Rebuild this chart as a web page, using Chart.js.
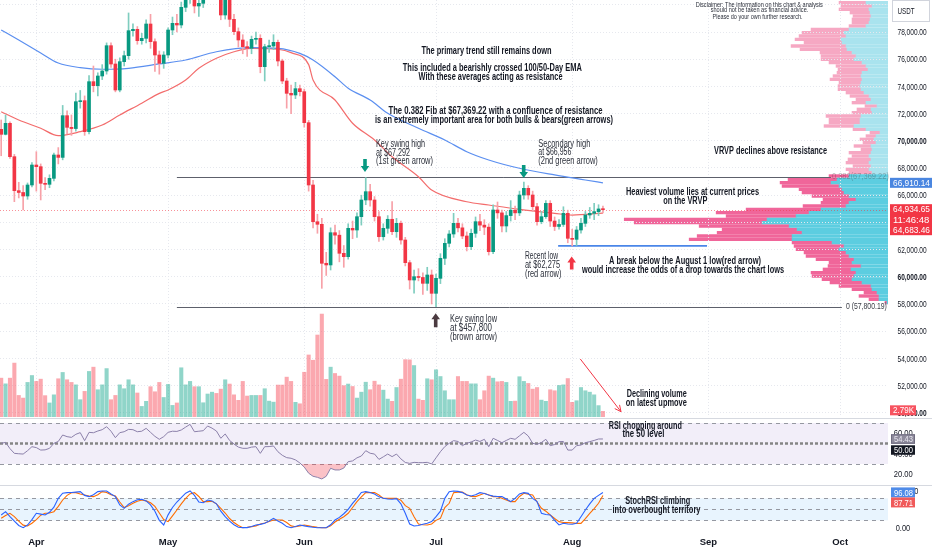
<!DOCTYPE html>
<html>
<head>
<meta charset="utf-8">
<script src="https://cdn.jsdelivr.net/npm/chart.js@4.4.1/dist/chart.umd.min.js"></script>
<style>
  body { margin: 0; background: #fff; }
  #wrap { position: relative; width: 932px; height: 550px; overflow: hidden; background: #fff; }
  #wrap canvas { position: absolute; left: 0; }
</style>
</head>
<body>
<div id="wrap">
  <canvas id="vrvpChart" width="932" height="417" style="top:0"></canvas>
  <canvas id="priceChart" width="932" height="417" style="top:0"></canvas>
  <canvas id="rsiChart" width="932" height="67" style="top:418px"></canvas>
  <canvas id="stochChart" width="932" height="65" style="top:485px"></canvas>
</div>
<script>
// Daily candles, first one is 24 Mar (day -8, counted from 1 Apr)
const firstDay = -8;

const opens = [70843, 70476, 71284, 68833, 66333, 66200, 65941, 66750,
  68220, 68098, 66873, 66800, 67240, 68956, 68780, 71848, 70990, 70900,
  72877, 72951, 70672, 74348, 74054, 74765, 75132, 76995, 75647, 73735,
  75819, 76260, 78098, 78196, 77363, 77534, 78588, 77289, 76309, 75696,
  76309, 78147, 78637, 78515, 79814, 80475, 81200, 79912, 80108, 80700,
  81500, 82100, 81300, 79250, 80900, 78932, 78025, 77412, 76922, 76799,
  77461, 77534, 75451, 76922, 76971, 77240, 75868, 74397, 73490, 73368,
  73833, 73613, 71333, 66750, 64050, 63860, 60993, 60870, 63243, 63060,
  61727, 61480, 63565, 63440, 64420, 65647, 66260, 65647, 64420, 62948,
  63565, 64229, 63316, 63932, 62706, 61040, 59765, 60010, 59950, 59520,
  60133, 58785, 59888, 61358, 62461, 63147, 63932, 63600, 63000, 62216,
  63196, 64054, 63800, 63650, 61849, 64912, 64700, 63736, 64500, 64900,
  64700, 66015, 66505, 66015, 65157, 64054, 64422, 65400, 64100, 63700,
  63850, 64667, 62829, 62755, 63441, 63932, 64545, 64667, 64790, 64990];

const highs = [71530, 71897, 71400, 69000, 66950, 66700, 66900, 68400,
  69200, 68300, 67300, 67500, 69100, 69500, 72600, 72200, 71900, 73500,
  73700, 73300, 74800, 75500, 75000, 75600, 77200, 77200, 76000, 76100,
  76600, 79400, 78600, 78400, 77900, 78900, 79300, 77500, 76600, 76554,
  78300, 79100, 79300, 80200, 81200, 81800, 81600, 80500, 81300, 82200,
  82800, 82600, 81800, 81500, 81200, 79300, 78300, 77800, 77300, 77700,
  78000, 77800, 77100, 77400, 77800, 77400, 76000, 74600, 74100, 74300,
  74100, 73800, 71500, 67100, 64600, 64300, 61800, 63600, 63800, 63400,
  62300, 63900, 64100, 64700, 66000, 67292, 66800, 65900, 64800, 63900,
  64500, 65523, 64300, 64100, 62900, 61200, 60500, 60600, 60300, 60700,
  60500, 60200, 61700, 62800, 63400, 64667, 64300, 63900, 63300, 63500,
  64400, 64600, 64200, 63900, 65300, 65500, 64900, 64800, 65600, 65200,
  66300, 66956, 66700, 66300, 65400, 64800, 65600, 65600, 64400, 64200,
  65150, 64900, 63500, 63700, 64300, 64800, 65100, 65400, 65300, 65200];

const lows = [68900, 70430, 68700, 65524, 65800, 64912, 65700, 66600,
  66300, 65650, 66400, 66550, 67050, 68300, 68600, 70500, 70400, 70700,
  72400, 70400, 70500, 73600, 73300, 74500, 74900, 75400, 73600, 73600,
  75500, 76000, 77700, 77100, 77100, 77200, 76800, 75100, 74900, 75328,
  76100, 77800, 78000, 78300, 79500, 80100, 79400, 79150, 79800, 80400,
  81200, 80600, 78900, 78950, 78400, 77800, 76900, 76400, 76200, 76400,
  77100, 75000, 74400, 76500, 76700, 75500, 74200, 72400, 72000, 73100,
  73300, 71000, 66300, 63600, 63200, 59153, 60100, 60500, 62400, 61100,
  60700, 61300, 62800, 62900, 63800, 65300, 65200, 64100, 62600, 62700,
  63200, 63100, 62900, 62400, 60800, 59100, 58800, 59700, 58700, 59000,
  58000, 57800, 59500, 60900, 62200, 62900, 63300, 62800, 61900, 62000,
  62900, 63400, 63100, 61600, 61700, 64300, 63300, 63300, 64100, 64200,
  64500, 65700, 65700, 64800, 63800, 63900, 64300, 63700, 63400, 63500,
  63700, 62500, 62275, 62300, 63200, 63700, 64300, 64200, 64500, 64700];

const closes = [70476, 71284, 68833, 66333, 66200, 65941, 66750, 68220,
  68098, 66873, 66800, 67240, 68956, 68780, 71848, 70990, 70900, 72877,
  72951, 70672, 74348, 74054, 74765, 75132, 76995, 75647, 73735, 75819,
  76260, 78098, 78196, 77363, 77534, 78588, 77289, 76309, 75696, 76309,
  78147, 78637, 78515, 79814, 80475, 81200, 79912, 80108, 80700, 81500,
  82100, 81300, 79250, 80900, 78932, 78025, 77412, 76922, 76799, 77461,
  77534, 75451, 76922, 76971, 77240, 75868, 74397, 73490, 73368, 73833,
  73613, 71333, 66750, 64050, 63860, 60993, 60870, 63243, 63060, 61727,
  61480, 63565, 63440, 64420, 65647, 66260, 65647, 64420, 62948, 63565,
  64229, 63316, 63932, 62706, 61040, 59765, 60010, 59950, 59520, 60133,
  58785, 59888, 61358, 62461, 63147, 63932, 63600, 63000, 62216, 63196,
  64054, 63800, 63650, 61849, 64912, 64700, 63736, 64500, 64900, 64700,
  66015, 66505, 66015, 65157, 64054, 64422, 65400, 64100, 63700, 63850,
  64667, 62829, 62755, 63441, 63932, 64545, 64667, 64790, 64990, 64934.65];

// volume in thousands
const volumes = [19.1, 16.3, 19.1, 26.5, 10.6, 9.3, 17.0, 20.4,
  17.5, 18.6, 10.5, 6.9, 10.9, 18.8, 21.9, 18.3, 17.0, 15.8,
  8.5, 12.6, 22.4, 24.5, 13.4, 15.8, 23.8, 8.5, 10.6, 15.8,
  13.9, 18.3, 15.8, 11.8, 5.2, 7.7, 14.9, 12.4, 17.0, 9.6,
  16.0, 5.7, 6.9, 24.2, 15.8, 17.5, 14.9, 14.9, 7.0, 11.3,
  12.2, 11.6, 13.7, 18.3, 16.2, 10.9, 8.2, 17.5, 10.3, 10.6,
  10.6, 10.6, 13.9, 7.8, 7.3, 15.7, 15.7, 19.6, 17.5, 7.2,
  6.5, 22.0, 30.5, 27.9, 40.3, 50.6, 18.5, 24.5, 21.4, 20.1,
  15.4, 16.2, 15.0, 9.3, 12.2, 17.1, 13.4, 17.6, 15.8, 13.2,
  8.8, 7.7, 14.5, 18.6, 28.2, 28.1, 25.3, 8.8, 8.2, 18.8,
  18.3, 23.2, 19.9, 12.9, 8.5, 8.5, 19.9, 17.5, 17.5, 16.3,
  16.3, 8.5, 12.9, 20.1, 19.1, 17.3, 17.5, 17.0, 7.7, 7.8,
  19.8, 17.5, 16.5, 13.7, 14.5, 8.3, 7.7, 13.4, 12.9, 15.5,
  15.8, 18.9, 7.2, 8.0, 14.5, 12.9, 12.2, 10.9, 5.6, 2.79];

const rsiValues = [50.2, 51.1, 45, 40.4, 40, 39.7, 43, 46.9,
  46, 43.6, 43.8, 45.3, 50.2, 52, 58.3, 56.7, 56, 59,
  60.6, 52.8, 60.9, 60.5, 62.2, 63.5, 66.4, 62, 55.7, 60.6,
  61.5, 63.8, 63.5, 61.5, 62, 64.8, 60.9, 57, 54.1, 56.7,
  60.9, 62, 61.8, 63.2, 66, 68.7, 61.5, 62, 62.5, 67.1,
  65, 62.2, 55.1, 59.3, 53, 49.5, 46.5, 45.3, 45.3, 46.5,
  46.9, 40.4, 46.9, 47, 47.6, 42, 38.5, 36.2, 35.6, 34,
  31, 27, 21, 18, 17, 15.4, 18, 25.8, 24.2, 24.2,
  26, 32.3, 33, 36, 37.8, 43, 40.5, 39.7, 34.5, 37,
  39.7, 37.2, 39.7, 35, 31.5, 30.6, 31.6, 31.3, 31.3, 31.6,
  30, 36, 42, 47, 50.2, 52.8, 52, 47.9, 50.2, 51.5,
  53.4, 52, 54.1, 46.9, 55.1, 53, 50.8, 53, 55.1, 54.1,
  57.5, 60.9, 57.3, 50.2, 49.2, 51, 54.1, 47.9, 49, 51.8,
  52, 43.6, 43.6, 47.9, 48.5, 50.8, 51.8, 53, 54.4, 54.43];

const stochK = [34.6, 43.7, 30, 18, 6, 0.1, 7.4, 22,
  39.2, 37, 34.6, 42, 56, 80, 94, 95.5, 96, 97,
  98.2, 88, 84.6, 90, 98.2, 100, 100, 92, 84.6, 62,
  52.8, 64, 71, 76, 77.3, 73, 62, 45, 20, 7.4,
  35, 55, 70, 82, 94, 100, 88, 70, 68, 75.5,
  73, 65, 45, 30.1, 18, 8, 1, 0.1, 0.1, 3,
  7.4, 9, 11.9, 18, 25.5, 18, 12, 3, 0, 3,
  7.4, 5, 2.8, 1, 0, 0, 0, 8, 20.9, 28,
  38, 50, 66, 80, 96, 98.2, 96, 92, 84, 80,
  78, 77.3, 79, 65, 39.2, 10, 4.6, 6, 9.2, 12,
  16.5, 30, 45, 80, 98.2, 100, 99, 95.5, 89, 86.4,
  90, 95.5, 93, 89, 86, 85, 84.6, 78, 71, 80,
  92, 95.5, 93.6, 80, 71, 39.2, 36, 34.6, 20, 7.4,
  11.9, 10, 9.2, 11.9, 30, 48.2, 65, 80, 88, 96.08];

const stochD = [25.5, 33, 39.2, 30.1, 18, 7, 4.6, 12,
  22, 34, 39.2, 40, 43.7, 58, 75.5, 88, 95, 95.5,
  92, 89.1, 86, 84.6, 90, 98.2, 96, 90, 86.4, 70,
  55, 60, 66.5, 72, 75.5, 73, 68, 58, 40, 22,
  16.5, 32, 48.2, 65, 80, 92, 95.5, 85, 71, 71,
  72, 65, 52.8, 40, 25, 14, 6, 0.1, 1, 2.8,
  5, 10.1, 13, 17, 21, 21, 21, 14, 5, 2.8,
  5, 7.4, 5, 2.8, 1, 0, 0, 5, 15.4, 23,
  30, 39.2, 55, 71, 84, 95.5, 96, 95.5, 89, 80,
  80, 80, 80, 75, 60, 52.8, 30, 10.1, 8, 7.4,
  10, 20, 25.5, 55, 66.5, 95.5, 97, 97, 90, 85,
  84.6, 89, 93.6, 89, 84.6, 84.6, 80, 75.5, 71, 71,
  85, 93.6, 91, 89.1, 70, 52.8, 45, 34.6, 25, 16.5,
  14, 13.7, 13, 11.9, 11.9, 25, 39.2, 52, 66.5, 87.71];

// EMA lines, read at a handful of days
const ema100Days = [-8, -4, 1, 5, 10, 15, 21, 28, 34, 41, 49, 55, 60, 63, 68, 71, 76, 80, 87, 93, 98, 103, 110, 118, 125, 129];
const ema100Values = [78150, 77410, 76460, 75720, 75380, 75260, 75330, 75650, 75940, 76550, 76850, 76800, 76430, 75940, 74710, 73860, 73000, 72020, 70920, 70060, 69200, 68590, 67980, 67490, 67120, 66910.14];
const ema50Days = [-8, -4, 1, 5, 10, 15, 19, 24, 28, 30, 34, 37, 41, 45, 49, 55, 58, 62, 63, 68, 72, 77, 81, 87, 90, 98, 103, 110, 118, 122, 129];
const ema50Values = [72140, 71530, 70920, 70380, 70670, 71160, 71900, 72760, 73490, 73740, 74470, 75330, 76070, 76550, 76800, 76730, 76480, 75600, 74470, 73000, 71290, 70060, 68830, 67360, 66380, 65520, 65280, 64960, 64670, 64540, 64683.46];

// visible range volume profile rows
const vrvpPrices = [80157, 79912, 79667, 79422, 79177, 78932, 78686, 78441, 78196, 77951,
  77706, 77461, 77216, 76971, 76726, 76481, 76235, 75990, 75745, 75500,
  75255, 75010, 74765, 74520, 74275, 74030, 73784, 73539, 73294, 73049,
  72804, 72559, 72314, 72069, 71824, 71579, 71333, 71088, 70843, 70598,
  70353, 70108, 69863, 69618, 69373, 69128, 68882, 68637, 68392, 68147,
  67902, 67657, 67412, 67167, 66922, 66677, 66431, 66186, 65941, 65696,
  65451, 65206, 64961, 64716, 64471, 64226, 63980, 63735, 63490, 63245,
  63000, 62755, 62510, 62265, 62020, 61775, 61529, 61284, 61039, 60794,
  60549, 60304, 60059, 59814, 59569, 59324, 59078, 58833, 58588, 58343, 58098];
const vrvpUp = [22, 16, 19, 18, 17, 18, 19, 22, 39, 44,
  42, 47, 46, 42, 41, 36, 32, 34, 26, 22,
  20, 26, 27, 26, 27, 28, 27, 24, 19, 17,
  22, 11, 17, 16, 27, 28, 28, 34, 22, 8,
  12, 14, 12, 17, 16, 17, 19, 17, 19, 17,
  19, 16, 39, 51, 57, 49, 46, 44, 39, 32,
  39, 42, 67, 79, 92, 121, 126, 99, 91, 86,
  96, 96, 56, 44, 49, 42, 39, 34, 36, 27,
  37, 32, 34, 36, 26, 17, 16, 11, 9, 9, 1];
const vrvpDown = [27, 31, 30, 20, 18, 18, 17, 17, 38, 42,
  47, 46, 38, 55, 47, 32, 35, 33, 33, 30,
  30, 25, 28, 32, 22, 22, 23, 18, 19, 15,
  14, 12, 14, 20, 35, 31, 31, 30, 13, 10,
  10, 14, 13, 17, 11, 22, 17, 23, 23, 18,
  23, 23, 20, 49, 51, 57, 43, 42, 37, 33,
  28, 43, 75, 93, 70, 143, 128, 90, 75, 85,
  95, 103, 40, 50, 43, 42, 43, 38, 23, 33,
  28, 45, 42, 30, 32, 32, 20, 13, 20, 10, 2];
const valueAreaHigh = 67500;

const monthStarts = [0, 30, 61, 91, 122, 153, 183];
const monthNames = ['Apr', 'May', 'Jun', 'Jul', 'Aug', 'Sep', 'Oct'];
const priceTicks = [50000, 52000, 54000, 56000, 58000, 60000, 62000, 64000, 66000, 68000, 70000, 72000, 74000, 76000, 78000, 80000];

const fibLevels = [
  { text: '0.382(67,369.22)', price: 67369.22, fromDay: 32, toDay: 180.9 },
  { text: '0 (57,800.19)', price: 57800.19, fromDay: 32, toDay: 183.4 }
];
const recentLow = { price: 62275, fromDay: 118.8, toDay: 152.7 };

// ---------- layout / look ----------
const xMin = -8.27, xMax = 193.9;
const uiFont = '"Liberation Sans", Arial, sans-serif';
const textColor = '#131722';
const gridColor = '#e6e8ee';

const dayOf = i => firstDay + i;
const isUp = opens.map((o, i) => closes[i] >= o);
const lastClose = closes[closes.length - 1];
const fmt2 = v => v.toLocaleString('en-US', { minimumFractionDigits: 2, maximumFractionDigits: 2 });

function hLine(ctx, x1, x2, yy) {
  yy = Math.round(yy) + 0.5;
  ctx.beginPath(); ctx.moveTo(x1, yy); ctx.lineTo(x2, yy); ctx.stroke();
}

function note(ctx, n) {
  ctx.font = (n.bold ? 'bold ' : '') + (n.size || 10) + 'px ' + uiFont;
  ctx.fillStyle = n.color || (n.bold ? textColor : '#2a2e39');
  ctx.textAlign = n.align || 'center';
  ctx.textBaseline = 'middle';
  ctx.fillText(n.t, n.x, n.y, n.w);
}

// narrow right-axis labels at the scale's tick positions
function axisLabels(chart, fmt, x0, squeeze, boldFn) {
  const { ctx, scales: { y } } = chart;
  ctx.save();
  ctx.fillStyle = textColor;
  ctx.textAlign = 'left';
  ctx.textBaseline = 'middle';
  y.ticks.forEach(t => {
    const s = fmt(t.value);
    ctx.font = (boldFn && boldFn(t.value) ? 'bold ' : '') + '9.5px ' + uiFont;
    ctx.fillText(s, x0, y.getPixelForValue(t.value) + 0.5, ctx.measureText(s).width * squeeze);
  });
  ctx.restore();
}

function blockArrow(ctx, cx, tipY, baseY, color) {
  const headH = 6 * Math.sign(baseY - tipY);
  ctx.fillStyle = color;
  ctx.beginPath();
  ctx.moveTo(cx, tipY);
  ctx.lineTo(cx + 4.3, tipY + headH);
  ctx.lineTo(cx + 1.8, tipY + headH);
  ctx.lineTo(cx + 1.8, baseY);
  ctx.lineTo(cx - 1.8, baseY);
  ctx.lineTo(cx - 1.8, tipY + headH);
  ctx.lineTo(cx - 4.3, tipY + headH);
  ctx.closePath();
  ctx.fill();
}

function tag(ctx, x, yTop, w, h, bg, lines, fg, border) {
  ctx.fillStyle = bg;
  ctx.fillRect(x, yTop, w, h);
  if (border) { ctx.strokeStyle = border; ctx.lineWidth = 1; ctx.strokeRect(x + 0.5, yTop + 0.5, w - 1, h - 1); }
  ctx.fillStyle = fg;
  ctx.font = '9.5px ' + uiFont;
  ctx.textAlign = 'left';
  ctx.textBaseline = 'middle';
  const lh = h / lines.length;
  lines.forEach((s, k) => ctx.fillText(s, x + 3, yTop + lh * (k + 0.5) + 0.5, w - 5));
}

function rightAxis(min, max, ticks) {
  return {
    position: 'right', min: min, max: max,
    afterBuildTicks: s => { s.ticks = ticks.map(v => ({ value: v })); },
    afterFit: s => { s.width = 44; s.paddingTop = 0; s.paddingBottom = 0; },
    ticks: { display: false },
    border: { display: false, dash: [1, 2] }
  };
}

const baseOptions = {
  responsive: false, animation: false, events: [],
  plugins: { legend: { display: false }, tooltip: { enabled: false } }
};

// ---------- annotations ----------
const priceNotes = [
  { t: 'The primary trend still remains down', x: 486.5, y: 51, w: 130, bold: true },
  { t: 'This included a bearishly crossed 100/50-Day EMA', x: 492.3, y: 68.5, w: 179, bold: true },
  { t: 'With these averages acting as resistance', x: 490.5, y: 77.5, w: 144, bold: true },
  { t: 'The 0.382 Fib at $67,369.22 with a confluence of resistance', x: 495.5, y: 111, w: 214, bold: true },
  { t: 'is an extremely important area for both bulls & bears(green arrows)', x: 494, y: 120, w: 238, bold: true },
  { t: 'VRVP declines above resistance', x: 770.5, y: 151.7, w: 113, bold: true },
  { t: 'Heaviest volume lies at current prices', x: 692.5, y: 192.3, w: 133, bold: true },
  { t: 'on the VRVP', x: 685.3, y: 201, w: 44, bold: true },
  { t: 'A break below the August 1 low(red arrow)', x: 685, y: 261, w: 152, bold: true },
  { t: 'would increase the odds of a drop towards the chart lows', x: 683, y: 270.7, w: 202, bold: true },
  { t: 'Declining volume', x: 656.7, y: 394.3, w: 60, bold: true },
  { t: 'on latest upmove', x: 656.3, y: 403.3, w: 61, bold: true },
  { t: 'Key swing high', x: 376, y: 144.3, w: 49, align: 'left' },
  { t: 'at $67,292', x: 376, y: 153.3, w: 34, align: 'left' },
  { t: '(1st green arrow)', x: 376, y: 161.7, w: 57, align: 'left' },
  { t: 'Secondary high', x: 538.3, y: 144, w: 52, align: 'left' },
  { t: 'at $66,956', x: 538.3, y: 152.7, w: 33, align: 'left' },
  { t: '(2nd green arrow)', x: 538.3, y: 161, w: 59.5, align: 'left' },
  { t: 'Recent low', x: 525, y: 256.7, w: 33, align: 'left' },
  { t: 'at $62,275', x: 525, y: 265.7, w: 35, align: 'left' },
  { t: '(red arrow)', x: 525, y: 274.3, w: 36.5, align: 'left' },
  { t: 'Key swing low', x: 450, y: 319.3, w: 47, align: 'left' },
  { t: 'at $457,800', x: 450, y: 328.3, w: 42, align: 'left' },
  { t: '(brown arrow)', x: 450, y: 337.3, w: 47, align: 'left' },
  { t: 'Disclaimer: The information on this chart & analysis', x: 759.3, y: 4.7, w: 127, size: 7 },
  { t: 'should not be taken as financial advice.', x: 759.5, y: 10.5, w: 97.6, size: 7 },
  { t: 'Please do your own further research.', x: 757.5, y: 17, w: 90, size: 7 }
];

const priceOverlay = {
  id: 'priceOverlay',
  beforeDatasetsDraw(chart) {
    const { ctx, chartArea: a, scales: { x, y } } = chart;
    ctx.save();
    ctx.lineWidth = 1;
    ctx.strokeStyle = 'rgba(242,54,69,0.55)';
    ctx.setLineDash([1, 2]);
    hLine(ctx, a.left, a.right, y.getPixelForValue(lastClose));
    ctx.setLineDash([]);
    ctx.strokeStyle = '#5d606b';
    fibLevels.forEach(f => hLine(ctx, x.getPixelForValue(f.fromDay), x.getPixelForValue(f.toDay), y.getPixelForValue(f.price)));
    ctx.strokeStyle = '#4a86e8';
    ctx.lineWidth = 1.6;
    const yl = y.getPixelForValue(recentLow.price);
    ctx.beginPath(); ctx.moveTo(x.getPixelForValue(recentLow.fromDay), yl); ctx.lineTo(x.getPixelForValue(recentLow.toDay), yl); ctx.stroke();
    ctx.restore();
  },
  afterDraw(chart) {
    const { ctx, scales: { x, y, yv } } = chart;
    axisLabels(chart, fmt2, 897.5, 0.69, v => v % 10000 === 0);
    ctx.save();
    // fib labels
    ctx.font = '8.5px ' + uiFont;
    ctx.textBaseline = 'middle'; ctx.textAlign = 'left';
    ctx.fillStyle = 'rgba(60,60,60,0.35)';
    ctx.fillText(fibLevels[0].text, x.getPixelForValue(fibLevels[0].toDay) + 1, y.getPixelForValue(fibLevels[0].price), 57);
    ctx.fillStyle = '#3a3d45';
    ctx.fillText(fibLevels[1].text, x.getPixelForValue(fibLevels[1].toDay) + 4, y.getPixelForValue(fibLevels[1].price), 41);

    priceNotes.forEach(n => note(ctx, n));

    blockArrow(ctx, 365, 172, 159, '#089981');
    blockArrow(ctx, 523.7, 178, 165, '#089981');
    blockArrow(ctx, 571.7, 256.5, 269.5, '#f23645');
    blockArrow(ctx, 435.7, 313.3, 327.3, '#4b3a40');

    // thin red pointer towards the last volume bars
    const x1 = 580.3, y1 = 359, x2 = 621, y2 = 411.7;
    const ang = Math.atan2(y2 - y1, x2 - x1);
    ctx.strokeStyle = '#f23645'; ctx.lineWidth = 1;
    ctx.beginPath(); ctx.moveTo(x1, y1); ctx.lineTo(x2, y2);
    ctx.moveTo(x2 - 7 * Math.cos(ang - 0.45), y2 - 7 * Math.sin(ang - 0.45)); ctx.lineTo(x2, y2);
    ctx.lineTo(x2 - 7 * Math.cos(ang + 0.45), y2 - 7 * Math.sin(ang + 0.45));
    ctx.stroke();

    // right axis tags
    ctx.fillStyle = '#fff'; ctx.fillRect(891, 0, 41, 22);
    ctx.strokeStyle = '#d1d4dc'; ctx.strokeRect(892.5, 0.5, 37, 21);
    ctx.fillStyle = textColor; ctx.font = '9.5px ' + uiFont; ctx.textAlign = 'left';
    ctx.fillText('USDT', 897.5, 11, 17);

    const yEma = y.getPixelForValue(ema100Values[ema100Values.length - 1]);
    tag(ctx, 890, yEma - 5, 42, 10, '#4a86e0', [fmt2(ema100Values[ema100Values.length - 1])], '#fff');
    const yPrice = y.getPixelForValue(lastClose);
    tag(ctx, 890, yPrice - 5.5, 42, 31, '#f23645', [fmt2(lastClose), '11:46:48', fmt2(ema50Values[ema50Values.length - 1])], '#fff');
    const yVol = yv.getPixelForValue(volumes[volumes.length - 1]);
    tag(ctx, 890, yVol - 6, 26, 10, '#f7525f', [volumes[volumes.length - 1].toFixed(2) + 'K'], '#fff');
    ctx.restore();
  }
};

// ---------- volume profile (drawn underneath the price pane) ----------
const vrvpMax = Math.max(...vrvpUp.map((u, i) => u + vrvpDown[i])) / 0.297;
new Chart(document.getElementById('vrvpChart'), {
  type: 'bar',
  data: {
    datasets: [
      {
        label: 'Up volume',
        data: vrvpPrices.map((p, i) => ({ x: vrvpUp[i], y: p })),
        backgroundColor: vrvpPrices.map(p => p < valueAreaHigh ? '#5ccde0' : '#a9e3ee'),
        barThickness: 2.7
      },
      {
        label: 'Down volume',
        data: vrvpPrices.map((p, i) => ({ x: vrvpDown[i], y: p })),
        backgroundColor: vrvpPrices.map(p => p < valueAreaHigh ? '#f0669a' : '#f6a8c3'),
        barThickness: 2.7
      }
    ]
  },
  options: Object.assign({}, baseOptions, {
    indexAxis: 'y',
    layout: { padding: { right: 44 } },
    scales: {
      x: { type: 'linear', display: false, reverse: true, min: 0, max: vrvpMax, stacked: true },
      y: { type: 'linear', display: false, min: 49691, max: 80353, stacked: true, offset: false }
    }
  })
});

// ---------- price pane ----------
new Chart(document.getElementById('priceChart'), {
  type: 'bar',
  data: {
    datasets: [
      {
        label: 'Volume', yAxisID: 'yv', order: 10, grouped: false, barThickness: 3.4,
        data: volumes.map((v, i) => ({ x: dayOf(i), y: v })),
        backgroundColor: isUp.map(u => u ? 'rgba(34,171,148,0.5)' : 'rgba(247,82,95,0.5)')
      },
      {
        type: 'line', label: 'EMA 100', order: 5,
        data: ema100Days.map((d, i) => ({ x: d, y: ema100Values[i] })),
        borderColor: '#5b8ff0', borderWidth: 1.2, pointRadius: 0, cubicInterpolationMode: 'monotone'
      },
      {
        type: 'line', label: 'EMA 50', order: 5,
        data: ema50Days.map((d, i) => ({ x: d, y: ema50Values[i] })),
        borderColor: '#f36c6c', borderWidth: 1.2, pointRadius: 0, cubicInterpolationMode: 'monotone'
      },
      {
        label: 'Wicks', order: 3, grouped: false, barThickness: 1,
        data: lows.map((l, i) => ({ x: dayOf(i), y: [l, highs[i]] })),
        backgroundColor: isUp.map(u => u ? '#7fcdbf' : '#f7a1a8')
      },
      {
        label: 'Candles', order: 2, grouped: false, barThickness: 3, minBarLength: 1,
        data: opens.map((o, i) => ({ x: dayOf(i), y: [o, closes[i]] })),
        backgroundColor: isUp.map(u => u ? '#089981' : '#f23645')
      }
    ]
  },
  options: Object.assign({}, baseOptions, {
    scales: {
      x: {
        type: 'linear', min: xMin, max: xMax, offset: false,
        afterBuildTicks: s => { s.ticks = monthStarts.map(v => ({ value: v })); },
        afterFit: s => { s.height = 0; s.paddingLeft = 0; s.paddingRight = 0; },
        ticks: { display: false },
        grid: { color: gridColor, drawTicks: false, offset: false },
        border: { display: false, dash: [1, 2] }
      },
      y: Object.assign(rightAxis(49691, 80353, priceTicks), {
        grid: { color: gridColor, drawTicks: false }
      }),
      yv: { display: false, min: 0, max: 205 }
    }
  }),
  plugins: [priceOverlay]
});

// ---------- RSI pane ----------
const rsiPanel = {
  id: 'rsiPanel',
  beforeDatasetsDraw(chart) {
    const { ctx, chartArea: a, scales: { y } } = chart;
    const y70 = y.getPixelForValue(70), y30 = y.getPixelForValue(30);
    ctx.save();
    ctx.fillStyle = 'rgba(126,87,194,0.1)';
    ctx.fillRect(a.left, y70, a.right - a.left, y30 - y70);
    ctx.strokeStyle = '#9598a1'; ctx.lineWidth = 1; ctx.setLineDash([4, 4]);
    hLine(ctx, a.left, a.right, y70);
    hLine(ctx, a.left, a.right, y30);
    ctx.strokeStyle = '#858585'; ctx.lineWidth = 2.5; ctx.setLineDash([3, 2]);
    const y50 = y.getPixelForValue(50);
    ctx.beginPath(); ctx.moveTo(a.left, y50); ctx.lineTo(a.right, y50); ctx.stroke();
    ctx.restore();
  },
  afterDraw(chart) {
    const { ctx, scales: { y } } = chart;
    axisLabels(chart, v => v.toFixed(2), 893.7, 0.8);
    ctx.save();
    ctx.strokeStyle = '#d6d9e0'; ctx.lineWidth = 1;
    hLine(ctx, 0, 932, 0);
    note(ctx, { t: 'RSI chopping around', x: 645.3, y: 8, w: 73, bold: true });
    note(ctx, { t: 'the 50 level', x: 643.5, y: 16.7, w: 42, bold: true });
    const last = rsiValues[rsiValues.length - 1];
    const yr = y.getPixelForValue(last);
    tag(ctx, 891, yr - 4.7, 24, 9.5, '#8e8b9c', [last.toFixed(2)], '#e8e6ef', '#6f6c80');
    tag(ctx, 891, yr + 6.3, 24, 9.5, '#131722', ['50.00'], '#fff');
    ctx.restore();
  }
};

new Chart(document.getElementById('rsiChart'), {
  type: 'line',
  data: {
    datasets: [{
      label: 'RSI',
      data: rsiValues.map((v, i) => ({ x: dayOf(i), y: v })),
      borderColor: '#8b80a9', borderWidth: 1, pointRadius: 0,
      fill: { target: { value: 30 }, above: 'rgba(0,0,0,0)', below: 'rgba(242,54,69,0.3)' }
    }]
  },
  options: Object.assign({}, baseOptions, {
    scales: {
      x: { type: 'linear', min: xMin, max: xMax, display: false },
      y: Object.assign(rightAxis(9.5, 74.9, [20, 40, 60]), { grid: { display: false } })
    }
  }),
  plugins: [rsiPanel]
});

// ---------- Stoch RSI pane ----------
const stochPanel = {
  id: 'stochPanel',
  beforeDatasetsDraw(chart) {
    const { ctx, chartArea: a, scales: { y } } = chart;
    const y80 = y.getPixelForValue(80), y20 = y.getPixelForValue(20);
    ctx.save();
    ctx.fillStyle = 'rgba(33,150,243,0.1)';
    ctx.fillRect(a.left, y80, a.right - a.left, y20 - y80);
    ctx.strokeStyle = '#9598a1'; ctx.lineWidth = 1; ctx.setLineDash([4, 4]);
    [80, 50, 20].forEach(v => hLine(ctx, a.left, a.right, y.getPixelForValue(v)));
    ctx.restore();
  },
  afterDraw(chart) {
    const { ctx, scales: { y } } = chart;
    axisLabels(chart, v => v.toFixed(2), 895.7, 0.78);
    ctx.save();
    ctx.strokeStyle = '#d6d9e0'; ctx.lineWidth = 1;
    hLine(ctx, 0, 932, 0);
    note(ctx, { t: 'StochRSI climbing', x: 657.7, y: 16, w: 65, bold: true });
    note(ctx, { t: 'into overbought territory', x: 656.5, y: 25, w: 88, bold: true });
    const k = stochK[stochK.length - 1], d = stochD[stochD.length - 1];
    const yk = y.getPixelForValue(k);
    tag(ctx, 891, yk - 5, 24, 10, '#4f8be8', [k.toFixed(2)], '#fff');
    tag(ctx, 891, yk + 5, 24, 10, '#f05a5a', [d.toFixed(2)], '#fff');
    ctx.restore();
  }
};

new Chart(document.getElementById('stochChart'), {
  type: 'line',
  data: {
    datasets: [
      {
        label: 'K', data: stochK.map((v, i) => ({ x: dayOf(i), y: v })),
        borderColor: '#2962ff', borderWidth: 1.1, pointRadius: 0
      },
      {
        label: 'D', data: stochD.map((v, i) => ({ x: dayOf(i), y: v })),
        borderColor: '#ff6d00', borderWidth: 1.1, pointRadius: 0
      }
    ]
  },
  options: Object.assign({}, baseOptions, {
    scales: {
      x: {
        type: 'linear', min: xMin, max: xMax, offset: false,
        afterBuildTicks: s => { s.ticks = monthStarts.map(v => ({ value: v })); },
        afterFit: s => { s.height = 15; s.paddingLeft = 0; s.paddingRight = 0; },
        ticks: {
          padding: 2, color: textColor, autoSkip: false, maxRotation: 0,
          font: { family: uiFont, size: 9.5, weight: 'bold' },
          callback: v => monthNames[monthStarts.indexOf(v)]
        },
        grid: { display: false, drawTicks: false },
        border: { display: false }
      },
      y: Object.assign(rightAxis(-19.9, 116.3, [0, 100]), { grid: { display: false } })
    }
  }),
  plugins: [stochPanel]
});
</script>
</body>
</html>
